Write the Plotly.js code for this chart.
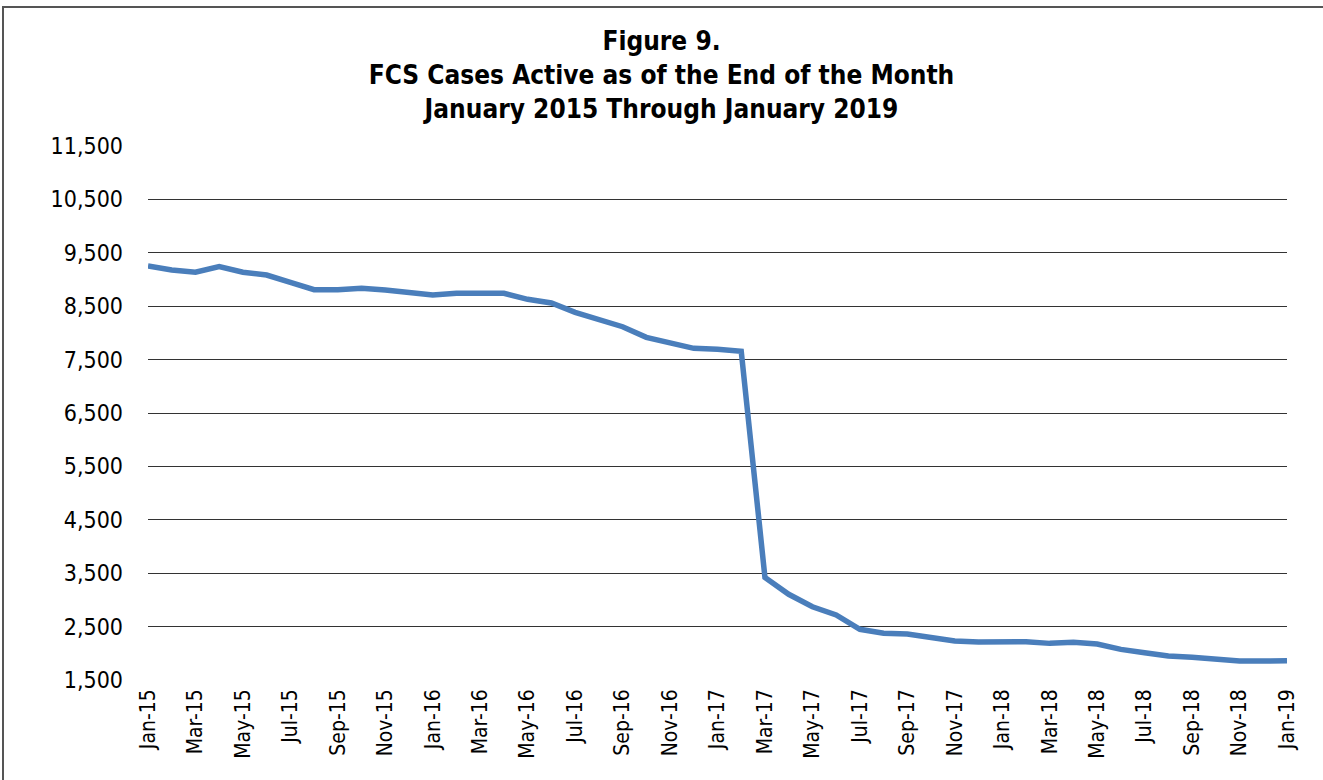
<!DOCTYPE html>
<html>
<head>
<meta charset="utf-8">
<script src="https://cdn.plot.ly/plotly-3.0.1.min.js"></script>
<style>
html,body{margin:0;padding:0;background:#fff;overflow:hidden;}
#frame{position:absolute;left:2px;top:6px;width:1340px;height:800px;border-left:2px solid #555;border-top:2px solid #555;box-sizing:border-box;pointer-events:none;z-index:10;}
#chart{position:absolute;left:0;top:0;width:1323px;height:780px;}
</style>
</head>
<body>
<div id="chart"></div>
<div id="frame"></div>
<script>
const months = ["Jan","Feb","Mar","Apr","May","Jun","Jul","Aug","Sep","Oct","Nov","Dec"];
const years = ["15","16","17","18","19"];
const categories = [];
for (const y of years) for (const m of months) { if (categories.length < 49) categories.push(m + "-" + y); }

const activeCases = [
  9253, 9178, 9135, 9240, 9135, 9084, 8947, 8809, 8809, 8835, 8803, 8760,
  8710, 8741, 8741, 8741, 8629, 8560, 8385, 8254, 8116, 7917, 7805, 7711,
  7693, 7655, 3420, 3105, 2872, 2717, 2449, 2374, 2361, 2299, 2230, 2211,
  2220, 2217, 2186, 2205, 2174, 2074, 2011, 1949, 1924, 1893, 1855, 1855,
  1861
];

const tickLabels = categories.filter((c, i) => i % 2 === 0);
const yTicks = [1500, 2500, 3500, 4500, 5500, 6500, 7500, 8500, 9500, 10500, 11500];

const FONT = '"DejaVu Sans Condensed", "DejaVu Sans", Verdana, sans-serif';

Plotly.newPlot('chart', [{
  type: 'scatter',
  mode: 'lines',
  x: categories,
  y: activeCases,
  line: {color: '#4a7ebb', width: 5.5},
  hoverinfo: 'x+y'
}], {
  width: 1323, height: 780,
  margin: {l: 148, r: 36, t: 146, b: 100},
  paper_bgcolor: '#ffffff', plot_bgcolor: '#ffffff',
  showlegend: false,
  font: {family: FONT, color: '#000000'},
  title: {
    text: '<b>Figure 9.</b><br><b>FCS Cases Active as of the End of the Month</b><br><b>January 2015 Through January 2019</b>',
    x: 0.5, xref: 'container', xanchor: 'center',
    y: 1 - 50/780, yref: 'container', yanchor: 'top',
    font: {family: FONT, size: 26, color: '#000000'}
  },
  xaxis: {
    type: 'category',
    range: [0, 48],
    tickmode: 'array',
    tickvals: tickLabels,
    ticktext: tickLabels,
    tickangle: -90,
    tickfont: {family: FONT, size: 21, color: '#000000'},
    showgrid: false, zeroline: false, showline: false,
    ticks: '', ticklabelstandoff: 4
  },
  yaxis: {
    range: [1500, 11500],
    tickmode: 'array',
    tickvals: yTicks,
    tickformat: ',',
    tickfont: {family: FONT, size: 23, color: '#000000'},
    showgrid: true, gridcolor: '#333333', gridwidth: 1,
    zeroline: false, showline: false, ticks: '',
    ticklabelstandoff: 24
  }
}, {displayModeBar: false, staticPlot: true});
</script>
</body>
</html>
